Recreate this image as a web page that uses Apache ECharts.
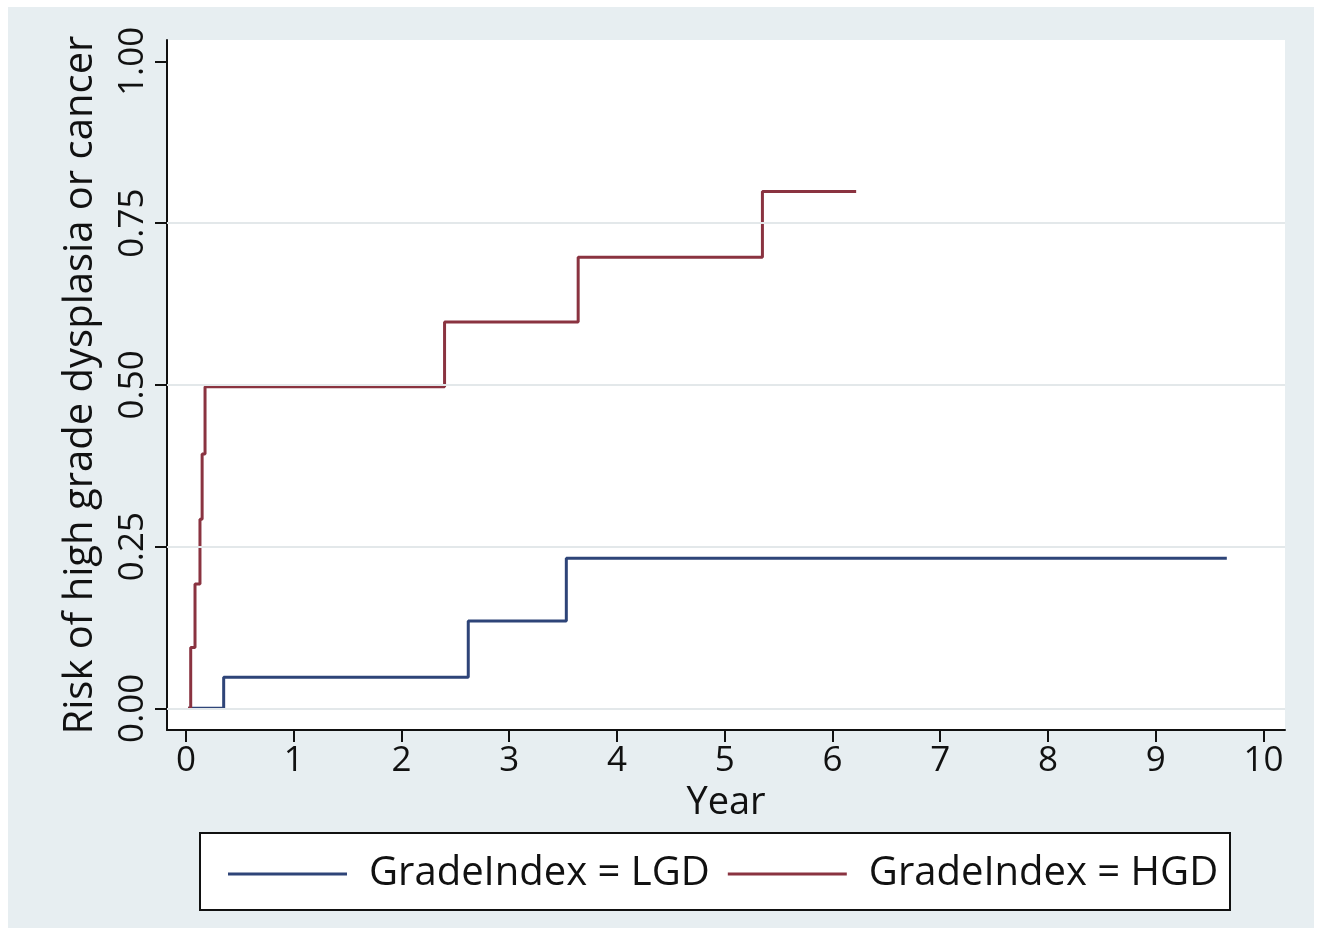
<!DOCTYPE html>
<html>
<head>
<meta charset="utf-8">
<script src="https://cdn.jsdelivr.net/npm/echarts@6/dist/echarts.min.js"></script>
<style>
html,body{margin:0;padding:0;background:#fff;}
#chart{width:1321px;height:931px;}
</style>
</head>
<body>
<div id="chart"></div>
<script>
// Kaplan-Meier style cumulative risk (step functions)
const lgdTime = [0.02, 0.35, 2.62, 3.53, 9.66];
const lgdRisk = [0.000, 0.048, 0.135, 0.232, 0.232];
const hgdTime = [0.02, 0.044, 0.084, 0.13, 0.15, 0.177, 2.40, 3.64, 5.35, 6.22];
const hgdRisk = [0.000, 0.094, 0.192, 0.292, 0.393, 0.497, 0.597, 0.697, 0.799, 0.799];
const xTicks = [0, 1, 2, 3, 4, 5, 6, 7, 8, 9, 10];
const yTicks = [0, 0.25, 0.5, 0.75, 1.0];
const seriesNames = ['GradeIndex = LGD', 'GradeIndex = HGD'];

const FONT = '"Open Sans", sans-serif';
const zip = (a, b) => a.map((v, i) => [v, b[i]]);
const BLUE = '#2e4478';
const RED = '#8a3340';

const chart = echarts.init(document.getElementById('chart'), null, {renderer: 'canvas'});
chart.setOption({
  backgroundColor: '#ffffff',
  animation: false,
  textStyle: {fontFamily: FONT},
  graphic: [
    {type: 'rect', z: -100, shape: {x: 8, y: 7, width: 1306, height: 921}, style: {fill: '#e7eef1'}},
    {type: 'rect', z: -50, shape: {x: 200, y: 833, width: 1030, height: 77}, style: {fill: '#ffffff', stroke: '#111', lineWidth: 2}}
  ],
  grid: {left: 167, right: 36, top: 40, bottom: 201, show: true, backgroundColor: '#ffffff', borderWidth: 0, containLabel: false},
  legend: {
    z: 10,
    left: 223, top: 849,
    itemWidth: 119, itemHeight: 3, itemGap: 18,
    icon: 'rect',
    textStyle: {fontFamily: FONT, fontSize: 40, color: '#111', padding: [0, 0, 0, 17]},
    data: seriesNames
  },
  xAxis: {
    type: 'value', min: -0.176, max: 10.2,
    name: 'Year', nameLocation: 'middle', nameGap: 50,
    nameTextStyle: {fontFamily: FONT, fontSize: 38, color: '#111'},
    axisLine: {show: true, onZero: false, lineStyle: {color: '#111', width: 2}},
    axisTick: {show: true, customValues: xTicks, length: 12, lineStyle: {color: '#111', width: 2}},
    axisLabel: {customValues: xTicks, fontFamily: FONT, fontSize: 35, color: '#111', margin: 14},
    splitLine: {show: false}
  },
  yAxis: {
    type: 'value', min: -0.0336, max: 1.033,
    name: 'Risk of high grade dysplasia or cancer', nameLocation: 'middle', nameGap: 66,
    nameTextStyle: {fontFamily: FONT, fontSize: 40, color: '#111'},
    axisLine: {show: true, onZero: false, lineStyle: {color: '#111', width: 2}},
    axisTick: {show: true, customValues: yTicks, length: 12, lineStyle: {color: '#111', width: 2}},
    axisLabel: {customValues: yTicks, rotate: 90, fontFamily: FONT, fontSize: 35, color: '#111', margin: 16,
      formatter: v => v.toFixed(2)},
    splitLine: {show: false}
  },
  series: [
    {
      name: seriesNames[0], type: 'line', step: 'end', symbol: 'none',
      data: zip(lgdTime, lgdRisk),
      lineStyle: {color: BLUE, width: 3}, itemStyle: {color: BLUE},
      z: 3,
      markLine: {
        silent: true, symbol: 'none', label: {show: false}, animation: false,
        lineStyle: {color: '#e3e8ea', width: 2, type: 'solid'},
        data: yTicks.filter(v => v < 1).map(v => ({yAxis: v}))
      }
    },
    {
      name: seriesNames[1], type: 'line', step: 'end', symbol: 'none',
      data: zip(hgdTime, hgdRisk),
      lineStyle: {color: RED, width: 3}, itemStyle: {color: RED},
      z: 4
    }
  ]
});
</script>
</body>
</html>
